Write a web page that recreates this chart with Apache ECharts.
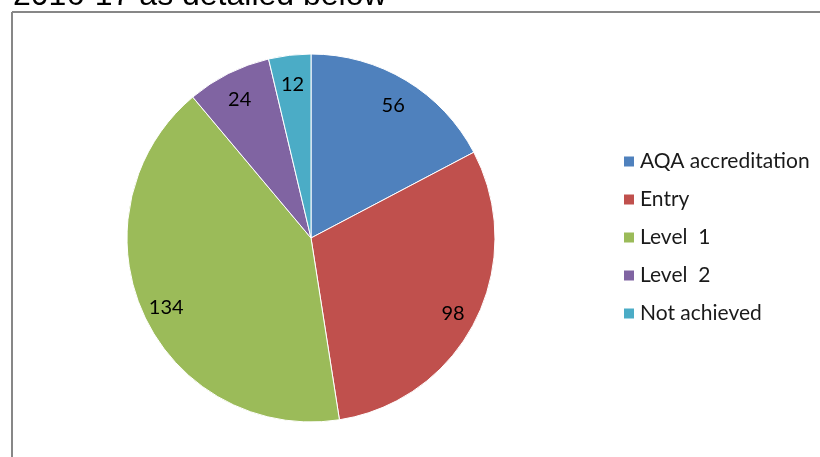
<!DOCTYPE html>
<html><head><meta charset="utf-8">
<script src="https://cdn.jsdelivr.net/npm/echarts@6/dist/echarts.min.js"></script>
<style>html,body{margin:0;padding:0;background:#fff}#c{width:820px;height:457px}</style>
</head><body><div id="c"></div>
<script>
const categories = ['AQA accreditation', 'Entry', 'Level  1', 'Level  2', 'Not achieved'];
const values = [56, 98, 134, 24, 12];
const colors = ['#4F81BD', '#C0504D', '#9BBB59', '#8064A2', '#4BACC6'];

const data = categories.map((n, i) => ({ name: n, value: values[i] }));
const chart = echarts.init(document.getElementById('c'));
chart.setOption({
  animation: false,
  color: colors,
  graphic: [
    { type: 'line', shape: { x1: 12, y1: 12, x2: 820, y2: 12 }, style: { stroke: '#878787', lineWidth: 2 } },
    { type: 'line', shape: { x1: 12, y1: 12, x2: 12, y2: 457 }, style: { stroke: '#878787', lineWidth: 2 } },
    { type: 'text', x: 13, y: 12, style: { text: '2016-17 as detailed below', font: '32px "Liberation Sans", Arial, sans-serif', fill: '#000', verticalAlign: 'bottom', align: 'left' } }
  ],
  legend: {
    orient: 'vertical', left: 622, top: 151, padding: 0,
    itemWidth: 12, itemHeight: 12, itemGap: 17, icon: 'rect',
    textStyle: { fontFamily: 'Lato, "Open Sans", sans-serif', fontSize: 21, color: '#1a1a1a' },
    data: categories
  },
  series: [
    {
      type: 'pie', center: [311, 238], radius: 184, startAngle: 90, clockwise: true,
      label: { show: false }, labelLine: { show: false }, silent: true,
      itemStyle: { borderColor: '#fff', borderWidth: 1 },
      data: data
    },
    {
      type: 'pie', center: [311, 238], radius: [128, 184], startAngle: 90, clockwise: true,
      silent: true, legendHoverLink: false,
      itemStyle: { color: 'rgba(0,0,0,0)' },
      label: { show: true, position: 'inside', formatter: '{c}', color: '#000', fontSize: 20, offset: [0, 4], fontFamily: 'Lato, "Open Sans", sans-serif' },
      labelLine: { show: false },
      data: data
    }
  ]
});
</script></body></html>
